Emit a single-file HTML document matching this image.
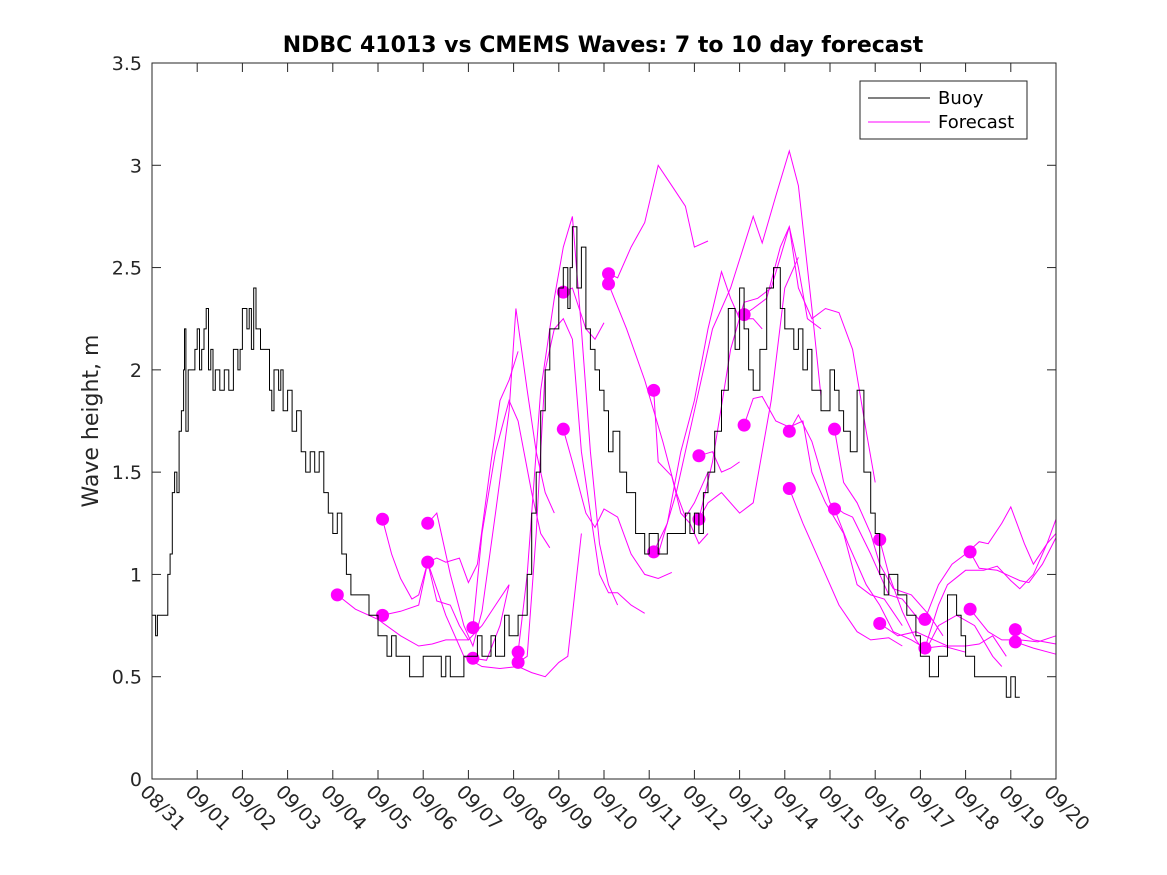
<!DOCTYPE html>
<html><head><meta charset="utf-8"><style>
body{margin:0;background:#fff;}
svg{display:block;font-family:"DejaVu Sans","Liberation Sans",sans-serif;}
</style></head><body>
<svg id="chart" width="1167" height="875" xmlns="http://www.w3.org/2000/svg">
<rect width="1167" height="875" fill="#fff"/>
<text x="603" y="52" text-anchor="middle" font-size="22" font-weight="bold" fill="#000">NDBC 41013 vs CMEMS Waves: 7 to 10 day forecast</text>
<text transform="translate(98,421) rotate(-90)" text-anchor="middle" font-size="22" fill="#262626">Wave height, m</text>
<g id="axes"></g>
<g id="fc"></g>
<g id="buoy"></g>
<g id="box"></g>
<g>
<rect x="860" y="81" width="167" height="58" fill="#fff" stroke="#262626" stroke-width="1"/>
<line x1="868" y1="98" x2="930" y2="98" stroke="#000" stroke-width="1"/>
<text x="938" y="104" font-size="18" fill="#000">Buoy</text>
<line x1="868" y1="122" x2="930" y2="122" stroke="#f0f" stroke-width="1"/>
<text x="938" y="128" font-size="18" fill="#000">Forecast</text>
</g>
</svg>
<script>
const xTickLabels=["08/31","09/01","09/02","09/03","09/04","09/05","09/06","09/07","09/08","09/09","09/10","09/11","09/12","09/13","09/14","09/15","09/16","09/17","09/18","09/19","09/20"];
const yTickVals=[0,0.5,1,1.5,2,2.5,3,3.5];
const yTickLabels=["0","0.5","1","1.5","2","2.5","3","3.5"];
const buoyDays=[0,0.08,0.12,0.3,0.35,0.4,0.45,0.5,0.55,0.6,0.65,0.7,0.72,0.75,0.8,0.9,0.95,1.0,1.05,1.1,1.15,1.2,1.25,1.3,1.35,1.4,1.5,1.6,1.7,1.8,1.9,1.95,2.0,2.1,2.15,2.2,2.25,2.3,2.4,2.5,2.6,2.65,2.7,2.8,2.85,2.9,3.0,3.1,3.2,3.3,3.4,3.5,3.6,3.7,3.8,3.9,4.0,4.1,4.2,4.3,4.4,4.6,4.8,5.0,5.1,5.2,5.3,5.4,5.5,5.7,5.9,6.0,6.2,6.4,6.5,6.6,6.8,6.9,7.0,7.2,7.3,7.5,7.6,7.8,7.9,8.0,8.1,8.2,8.3,8.4,8.5,8.6,8.7,8.8,8.9,9.0,9.1,9.2,9.25,9.3,9.4,9.5,9.6,9.7,9.8,9.9,10.0,10.1,10.2,10.35,10.5,10.7,10.9,11.0,11.2,11.4,11.6,11.8,11.9,12.0,12.1,12.2,12.3,12.45,12.6,12.75,12.9,13.0,13.1,13.2,13.3,13.45,13.6,13.75,13.9,14.0,14.1,14.2,14.3,14.4,14.5,14.6,14.8,15.0,15.1,15.2,15.3,15.45,15.6,15.75,15.9,16.0,16.1,16.2,16.3,16.5,16.7,16.9,17.0,17.2,17.4,17.6,17.8,17.9,18.0,18.1,18.2,18.35,18.5,18.7,18.9,19.0,19.1,19.2,19.3];
const buoyVals=[0.8,0.7,0.8,0.8,1.0,1.1,1.4,1.5,1.4,1.7,1.8,2.0,2.2,1.7,2.0,2.0,2.1,2.2,2.0,2.1,2.2,2.3,2.0,2.1,1.9,2.0,1.9,2.0,1.9,2.1,2.0,2.1,2.3,2.2,2.3,2.1,2.4,2.2,2.1,2.1,1.9,1.8,2.0,1.9,2.0,1.8,1.9,1.7,1.8,1.6,1.5,1.6,1.5,1.6,1.4,1.3,1.2,1.3,1.1,1.0,0.9,0.9,0.8,0.7,0.7,0.6,0.7,0.6,0.6,0.5,0.5,0.6,0.6,0.5,0.6,0.5,0.5,0.6,0.6,0.7,0.6,0.7,0.6,0.8,0.7,0.7,0.8,0.8,1.0,1.3,1.5,1.8,2.0,2.2,2.2,2.4,2.5,2.3,2.5,2.7,2.4,2.6,2.2,2.1,2.0,1.9,1.8,1.6,1.7,1.5,1.4,1.2,1.1,1.2,1.1,1.2,1.2,1.3,1.2,1.3,1.2,1.4,1.5,1.7,1.9,2.3,2.1,2.4,2.2,2.0,1.9,2.1,2.4,2.5,2.3,2.2,2.2,2.1,2.2,2.0,2.1,1.9,1.8,2.0,1.9,1.8,1.7,1.6,1.9,1.5,1.3,1.2,1.0,0.9,1.0,0.9,0.8,0.7,0.6,0.5,0.6,0.9,0.8,0.7,0.6,0.6,0.5,0.5,0.5,0.5,0.4,0.5,0.4];
const dotDays=[4.1,5.1,5.1,6.1,6.1,7.1,7.1,8.1,8.1,9.1,9.1,10.1,10.1,11.1,11.1,12.1,12.1,13.1,13.1,14.1,14.1,15.1,15.1,16.1,16.1,17.1,17.1,18.1,18.1,19.1,19.1];
const dotVals=[0.9,1.27,0.8,1.25,1.06,0.74,0.59,0.62,0.57,2.38,1.71,2.47,2.42,1.9,1.11,1.58,1.27,2.27,1.73,1.70,1.42,1.71,1.32,1.17,0.76,0.78,0.64,1.11,0.83,0.73,0.67];
const fc1=[[4.1,0.9],[4.5,0.83],[5.0,0.78],[5.5,0.7],[5.9,0.65],[6.2,0.66],[6.5,0.68],[7.0,0.68]];
const fc2=[[5.1,1.27],[5.3,1.1],[5.5,0.98],[5.75,0.88],[5.9,0.9],[6.1,1.06]];
const fc3=[[5.1,0.8],[5.5,0.82],[5.9,0.85],[6.1,1.06],[6.3,0.87],[6.6,0.85],[6.8,0.75],[7.0,0.68],[7.3,0.75],[7.6,0.85],[7.9,0.95]];
const fc4=[[6.1,1.06],[6.3,1.08],[6.5,1.06],[6.8,1.08],[7.0,0.96],[7.2,1.05],[7.5,1.55],[7.7,1.85],[7.9,1.95],[8.1,2.09]];
const fc5=[[6.1,1.25],[6.3,1.3],[6.6,1.0],[6.9,0.75],[7.1,0.65],[7.3,0.82],[7.6,1.3],[7.9,1.8],[8.05,2.3],[8.3,1.9],[8.5,1.6],[8.7,1.4],[8.9,1.3]];
const fc6=[[6.1,1.06],[6.5,0.8],[6.9,0.6],[7.3,0.55],[7.7,0.54],[8.1,0.55],[8.4,0.52],[8.7,0.5],[9.0,0.57],[9.2,0.6],[9.5,1.2]];
const fc7=[[7.1,0.74],[7.3,1.2],[7.6,1.6],[7.9,1.85],[8.1,1.75],[8.4,1.4],[8.6,1.2],[8.8,1.13]];
const fc8=[[7.1,0.59],[7.4,0.58],[7.7,0.75],[7.9,0.95]];
const fc9=[[8.1,0.62],[8.3,1.0],[8.6,1.9],[8.9,2.35],[9.1,2.6],[9.3,2.75],[9.5,2.2],[9.7,1.6],[9.9,1.15],[10.1,0.95],[10.3,0.85]];
const fc10=[[8.1,0.57],[8.3,0.6],[8.5,1.2],[8.7,2.0],[8.9,2.2],[9.1,2.25],[9.3,2.15],[9.5,1.6],[9.7,1.3],[9.9,1.0],[10.1,0.91],[10.3,0.91],[10.6,0.85],[10.9,0.81]];
const fc11=[[9.1,1.71],[9.3,1.55],[9.6,1.3],[9.8,1.23],[10.0,1.32],[10.3,1.28],[10.6,1.1],[10.9,1.0],[11.2,0.98],[11.5,1.01]];
const fc12=[[9.1,2.38],[9.3,2.4],[9.6,2.2],[9.8,2.15],[10.0,2.23]];
const fc13=[[10.1,2.47],[10.3,2.45],[10.6,2.6],[10.9,2.72],[11.2,3.0],[11.5,2.9],[11.8,2.8],[12.0,2.6],[12.3,2.63]];
const fc14=[[10.1,2.42],[10.5,2.2],[10.9,1.95],[11.3,1.65],[11.6,1.4],[11.8,1.28],[12.0,1.35],[12.3,1.5]];
const fc15=[[11.1,1.9],[11.2,1.55],[11.5,1.48],[11.7,1.3],[11.9,1.25],[12.1,1.15],[12.3,1.2]];
const fc16=[[12.1,1.58],[12.4,1.6],[12.6,1.5],[12.8,1.52],[13.0,1.55]];
const fc17=[[12.1,1.27],[12.3,1.35],[12.6,1.4],[13.0,1.3],[13.3,1.35],[13.7,1.85],[14.0,2.4],[14.3,2.55]];
const fc18=[[11.1,1.11],[11.4,1.25],[11.7,1.6],[12.0,1.85],[12.3,2.2],[12.6,2.48],[12.8,2.35],[13.0,2.25],[13.3,2.25],[13.5,2.2]];
const fc19=[[11.2,1.1],[11.6,1.4],[12.0,1.8],[12.4,2.2],[12.8,2.4],[13.3,2.75],[13.5,2.62],[13.8,2.85],[14.1,3.07],[14.3,2.9],[14.6,2.3],[14.8,1.87]];
const fc20=[[12.1,1.27],[12.4,1.55],[12.8,2.1],[13.1,2.33],[13.4,2.35],[13.7,2.4],[13.9,2.55],[14.1,2.7],[14.3,2.5],[14.5,2.25],[14.8,2.2]];
const fc21=[[13.1,2.27],[13.3,2.3],[13.6,2.35],[13.9,2.6],[14.1,2.7],[14.3,2.4],[14.6,2.25],[14.9,2.3],[15.2,2.28],[15.5,2.1],[15.8,1.7],[16.0,1.45]];
const fc22=[[13.1,1.73],[13.3,1.86],[13.5,1.87],[13.8,1.75],[14.1,1.72],[14.4,1.75],[14.6,1.5],[14.9,1.35],[15.3,1.2],[15.6,0.95],[15.9,0.9],[16.2,0.88],[16.6,0.75]];
const fc23=[[14.1,1.7],[14.3,1.78],[14.6,1.65],[15.0,1.35],[15.3,1.3],[15.5,1.28],[15.9,1.1],[16.3,0.9],[16.6,0.88],[17.0,0.77]];
const fc24=[[14.1,1.42],[14.4,1.25],[14.8,1.05],[15.2,0.85],[15.6,0.72],[15.9,0.68],[16.3,0.69],[16.6,0.65]];
const fc25=[[15.1,1.71],[15.3,1.45],[15.6,1.35],[15.9,1.2],[16.1,1.05],[16.4,0.93],[16.8,0.9],[17.2,0.8],[17.5,0.7]];
const fc26=[[15.1,1.32],[15.4,1.15],[15.8,0.95],[16.1,0.85],[16.4,0.72],[16.8,0.68],[17.1,0.64],[17.5,0.65],[18.0,0.62]];
const fc27=[[16.1,1.17],[16.3,1.0],[16.6,0.82],[16.9,0.68],[17.1,0.62],[17.4,0.75],[17.8,0.8],[18.2,0.75],[18.6,0.6],[18.8,0.55]];
const fc28=[[16.1,0.76],[16.5,0.7],[16.9,0.72],[17.3,0.68],[17.6,0.65],[18.0,0.65],[18.3,0.66],[18.6,0.7],[18.9,0.6]];
const fc29=[[17.1,0.78],[17.4,0.95],[17.7,1.05],[18.0,1.1],[18.3,1.16],[18.5,1.15],[18.8,1.25],[19.0,1.33],[19.3,1.15],[19.5,1.05],[19.8,1.15],[20,1.2]];
const fc30=[[17.1,0.64],[17.4,0.85],[17.6,0.95],[18.0,1.02],[18.4,1.02],[18.7,1.04],[19.0,0.97],[19.2,0.93],[19.5,1.0],[19.8,1.15],[20,1.27]];
const fc31=[[18.1,1.11],[18.3,1.03],[18.7,1.02],[18.9,1.0],[19.2,0.97],[19.4,0.96],[19.7,1.05],[20,1.18]];
const fc32=[[18.1,0.83],[18.5,0.72],[18.8,0.68],[19.2,0.68],[19.6,0.67],[20,0.7]];
const fc33=[[19.1,0.73],[19.5,0.68],[20,0.66]];
const fc34=[[19.1,0.67],[19.5,0.64],[20,0.61]];
const forecasts=[fc1,fc2,fc3,fc4,fc5,fc6,fc7,fc8,fc9,fc10,fc11,fc12,fc13,fc14,fc15,fc16,fc17,fc18,fc19,fc20,fc21,fc22,fc23,fc24,fc25,fc26,fc27,fc28,fc29,fc30,fc31,fc32,fc33,fc34];

const L=152,R=1056,T=63,B=779,XMAX=20,YMAX=3.5;
const xs=d=>L+(R-L)*d/XMAX;
const ys=v=>B-(B-T)*v/YMAX;
const NS="http://www.w3.org/2000/svg";
function mk(tag,parent){const e=document.createElementNS(NS,tag);parent.appendChild(e);return e;}
const axes=document.getElementById('axes');
for(let i=0;i<xTickLabels.length;i++){
  const x=xs(i);
  const t=mk('line',axes);
  
  
  t.setAttribute('x1',x);t.setAttribute('x2',x);t.setAttribute('y1',B);t.setAttribute('y2',B-9);t.setAttribute('stroke','#262626');
  const t2=mk('line',axes);
  
  
  t2.setAttribute('x1',x);t2.setAttribute('x2',x);t2.setAttribute('y1',T);t2.setAttribute('y2',T+9);t2.setAttribute('stroke','#262626');
  const lb=mk('text',axes);
  
  
  lb.setAttribute('transform',`translate(${x-13},${B+14}) rotate(45)`);
  lb.setAttribute('font-size','19');lb.setAttribute('fill','#262626');
  lb.textContent=xTickLabels[i];
}
for(let i=0;i<yTickVals.length;i++){
  const y=ys(yTickVals[i]);
  const t=mk('line',axes);
  
  
  t.setAttribute('x1',L);t.setAttribute('x2',L+9);t.setAttribute('y1',y);t.setAttribute('y2',y);t.setAttribute('stroke','#262626');
  const t2=mk('line',axes);
  
  
  t2.setAttribute('x1',R);t2.setAttribute('x2',R-9);t2.setAttribute('y1',y);t2.setAttribute('y2',y);t2.setAttribute('stroke','#262626');
  const lb=mk('text',axes);
  
  
  lb.setAttribute('x',L-10);lb.setAttribute('y',y+7);lb.setAttribute('text-anchor','end');
  lb.setAttribute('font-size','19');lb.setAttribute('fill','#262626');
  lb.textContent=yTickLabels[i];
}
const fcg=document.getElementById('fc');
forecasts.forEach(f=>{
  const p=mk('polyline',fcg);
  
  
  p.setAttribute('points',f.map(q=>xs(q[0]).toFixed(1)+','+ys(q[1]).toFixed(1)).join(' '));
  p.setAttribute('fill','none');p.setAttribute('stroke','#f0f');p.setAttribute('stroke-width','1');
});
for(let i=0;i<dotDays.length;i++){
  const c=mk('circle',fcg);
  
  
  c.setAttribute('cx',xs(dotDays[i]));c.setAttribute('cy',ys(dotVals[i]));c.setAttribute('r','6.5');c.setAttribute('fill','#f0f');
}
const bg=document.getElementById('buoy');
let pts=[];
for(let i=0;i<buoyDays.length;i++){
  if(i>0)pts.push(xs(buoyDays[i]).toFixed(1)+','+ys(buoyVals[i-1]).toFixed(1));
  pts.push(xs(buoyDays[i]).toFixed(1)+','+ys(buoyVals[i]).toFixed(1));
}
const bl=mk('polyline',bg);


bl.setAttribute('points',pts.join(' '));bl.setAttribute('fill','none');bl.setAttribute('stroke','#000');bl.setAttribute('stroke-width','1');
const box=mk('rect',document.getElementById('box'));


box.setAttribute('x',L);box.setAttribute('y',T);box.setAttribute('width',R-L);box.setAttribute('height',B-T);
box.setAttribute('fill','none');box.setAttribute('stroke','#262626');box.setAttribute('stroke-width','1');
</script>
</body></html>
